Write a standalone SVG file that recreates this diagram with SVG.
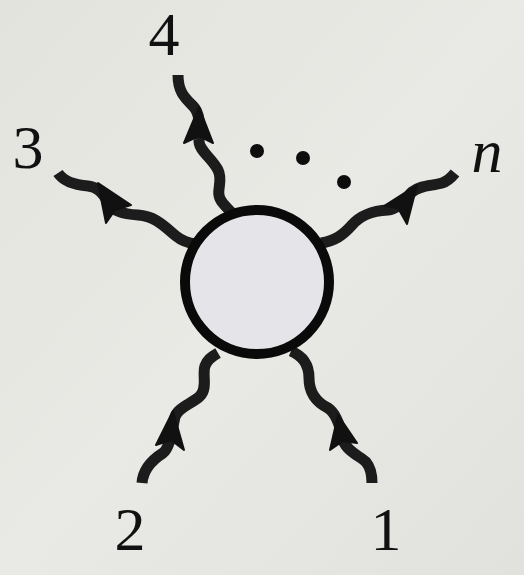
<svg xmlns="http://www.w3.org/2000/svg" width="524" height="575" viewBox="0 0 524 575">
<defs>
<linearGradient id="bg" x1="0" y1="0" x2="1" y2="1">
<stop offset="0" stop-color="#e3e3de"/>
<stop offset="0.5" stop-color="#e9e9e5"/>
<stop offset="1" stop-color="#e1e1dd"/>
</linearGradient>
<style>
.leg{fill:none;stroke:#1c1c1c;stroke-width:11;stroke-linecap:butt;stroke-linejoin:round}
.head{fill:#111;stroke:#111;stroke-width:2;stroke-linejoin:round}
.lbl{font-family:"Liberation Serif","DejaVu Serif",serif;font-size:62px;fill:#111;text-anchor:middle}
.dot{fill:#0d0d0d}
</style>
</defs>
<rect width="524" height="575" fill="url(#bg)"/>
<g id="connectors">
<g id="leg4">
<path class="leg" d="M178,75 C178,92 185,98 193,106 C200,113 200,125 199,140 C198,150 212,158 218,170 C224,182 214,192 222,202 C225,206 228,209 233,214"/>
<polygon class="head" points="199,107 184,143 199,136 213,143"/>
</g>
<g id="leg3">
<path class="leg" d="M58,173 C64,182 75,185 88,186 C97,187 102,192 108,202 C113,211 122,214 138,215 C156,216 166,228 176,236 C182,241 188,243 196,244"/>
<polygon class="head" points="98,183 106,223 115,210 131,205"/>
</g>
<g id="legn">
<path class="leg" d="M321,243 C335,241 343,235 352,225 C360,216 370,211 388,210 C398,209 404,200 412,192 C420,185 432,186 442,183 C448,181 451,178 455,173"/>
<polygon class="head" points="417,185 384,206 398,208 407,224"/>
</g>
<g id="leg2">
<path class="leg" d="M142,483 C143,470 152,460 163,453 C170,448 172,430 175,417 C178,407 192,404 200,396 C208,388 202,375 205,366 C207,360 211,357 218,353"/>
<polygon class="head" points="173,411 156,445 171,440 184,450"/>
</g>
<g id="leg1">
<path class="leg" d="M291,351 C303,356 309,365 309,378 C309,392 316,402 328,408 C336,413 340,425 343,440 C347,452 360,456 366,462 C371,468 372,475 372,483"/>
<polygon class="head" points="338,415 330,450 343,441 357,443"/>
</g>
</g>
<g id="blob">
<circle cx="257" cy="282" r="72" fill="#e5e5e9" stroke="#0a0a0a" stroke-width="10"/>
</g>
<g id="dots">
<circle class="dot" cx="257" cy="151" r="7"/>
<circle class="dot" cx="303" cy="158" r="7"/>
<circle class="dot" cx="344" cy="182" r="7"/>
</g>
<g id="label4"><text class="lbl" x="164" y="55">4</text></g>
<g id="label3"><text class="lbl" x="28" y="168">3</text></g>
<g id="labeln"><text class="lbl" x="487" y="172" font-style="italic">n</text></g>
<g id="label2"><text class="lbl" x="130" y="550">2</text></g>
<g id="label1"><text class="lbl" x="386" y="550">1</text></g>
</svg>
